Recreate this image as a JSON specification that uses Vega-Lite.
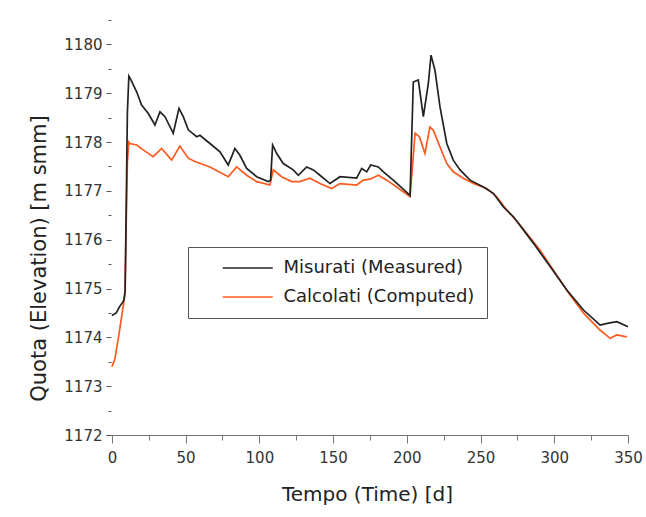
{
  "$schema": "https://vega.github.io/schema/vega-lite/v6.json",
  "width": 522,
  "height": 415,
  "autosize": {"type": "none"},
  "padding": {"left": 106, "top": 20, "right": 18, "bottom": 82},
  "background": "white",
  "config": {
    "view": {"stroke": null},
    "font": "DejaVu Sans",
    "axis": {"grid": false, "labelFont": "DejaVu Sans", "titleFont": "DejaVu Sans", "titleFontWeight": "normal"}
  },
  "data": {
    "values": [
      {"t": 0, "v": 1173.4, "series": "Calcolati (Computed)"},
      {"t": 2, "v": 1173.55, "series": "Calcolati (Computed)"},
      {"t": 5, "v": 1174.1, "series": "Calcolati (Computed)"},
      {"t": 8.8, "v": 1174.87, "series": "Calcolati (Computed)"},
      {"t": 10.5, "v": 1177.6, "series": "Calcolati (Computed)"},
      {"t": 11.5, "v": 1178.0, "series": "Calcolati (Computed)"},
      {"t": 12.2, "v": 1177.97, "series": "Calcolati (Computed)"},
      {"t": 16.8, "v": 1177.94, "series": "Calcolati (Computed)"},
      {"t": 21.2, "v": 1177.84, "series": "Calcolati (Computed)"},
      {"t": 28, "v": 1177.7, "series": "Calcolati (Computed)"},
      {"t": 33.7, "v": 1177.87, "series": "Calcolati (Computed)"},
      {"t": 40.5, "v": 1177.63, "series": "Calcolati (Computed)"},
      {"t": 46.1, "v": 1177.92, "series": "Calcolati (Computed)"},
      {"t": 51.8, "v": 1177.67, "series": "Calcolati (Computed)"},
      {"t": 56.3, "v": 1177.6, "series": "Calcolati (Computed)"},
      {"t": 66.5, "v": 1177.49, "series": "Calcolati (Computed)"},
      {"t": 78.9, "v": 1177.29, "series": "Calcolati (Computed)"},
      {"t": 84.6, "v": 1177.49, "series": "Calcolati (Computed)"},
      {"t": 91.4, "v": 1177.32, "series": "Calcolati (Computed)"},
      {"t": 98.2, "v": 1177.19, "series": "Calcolati (Computed)"},
      {"t": 107.2, "v": 1177.12, "series": "Calcolati (Computed)"},
      {"t": 109.4, "v": 1177.43, "series": "Calcolati (Computed)"},
      {"t": 115.1, "v": 1177.29, "series": "Calcolati (Computed)"},
      {"t": 121.9, "v": 1177.19, "series": "Calcolati (Computed)"},
      {"t": 127.5, "v": 1177.19, "series": "Calcolati (Computed)"},
      {"t": 134.3, "v": 1177.26, "series": "Calcolati (Computed)"},
      {"t": 141.1, "v": 1177.15, "series": "Calcolati (Computed)"},
      {"t": 149, "v": 1177.05, "series": "Calcolati (Computed)"},
      {"t": 154.7, "v": 1177.15, "series": "Calcolati (Computed)"},
      {"t": 166, "v": 1177.12, "series": "Calcolati (Computed)"},
      {"t": 170.5, "v": 1177.22, "series": "Calcolati (Computed)"},
      {"t": 175, "v": 1177.24, "series": "Calcolati (Computed)"},
      {"t": 180.7, "v": 1177.32, "series": "Calcolati (Computed)"},
      {"t": 186.4, "v": 1177.22, "series": "Calcolati (Computed)"},
      {"t": 193.1, "v": 1177.08, "series": "Calcolati (Computed)"},
      {"t": 202.2, "v": 1176.88, "series": "Calcolati (Computed)"},
      {"t": 205.6, "v": 1178.18, "series": "Calcolati (Computed)"},
      {"t": 208.5, "v": 1178.11, "series": "Calcolati (Computed)"},
      {"t": 212.3, "v": 1177.77, "series": "Calcolati (Computed)"},
      {"t": 215.7, "v": 1178.31, "series": "Calcolati (Computed)"},
      {"t": 218, "v": 1178.24, "series": "Calcolati (Computed)"},
      {"t": 222.5, "v": 1177.9, "series": "Calcolati (Computed)"},
      {"t": 227.1, "v": 1177.56, "series": "Calcolati (Computed)"},
      {"t": 231.5, "v": 1177.39, "series": "Calcolati (Computed)"},
      {"t": 238.3, "v": 1177.26, "series": "Calcolati (Computed)"},
      {"t": 245.1, "v": 1177.15, "series": "Calcolati (Computed)"},
      {"t": 254.2, "v": 1177.05, "series": "Calcolati (Computed)"},
      {"t": 261, "v": 1176.88, "series": "Calcolati (Computed)"},
      {"t": 267.8, "v": 1176.61, "series": "Calcolati (Computed)"},
      {"t": 276.8, "v": 1176.3, "series": "Calcolati (Computed)"},
      {"t": 290, "v": 1175.8, "series": "Calcolati (Computed)"},
      {"t": 300, "v": 1175.35, "series": "Calcolati (Computed)"},
      {"t": 310, "v": 1174.9, "series": "Calcolati (Computed)"},
      {"t": 320, "v": 1174.49, "series": "Calcolati (Computed)"},
      {"t": 331, "v": 1174.15, "series": "Calcolati (Computed)"},
      {"t": 337.9, "v": 1173.98, "series": "Calcolati (Computed)"},
      {"t": 342.4, "v": 1174.05, "series": "Calcolati (Computed)"},
      {"t": 349.2, "v": 1174.01, "series": "Calcolati (Computed)"},
      {"t": 0, "v": 1174.45, "series": "Misurati (Measured)"},
      {"t": 3, "v": 1174.5, "series": "Misurati (Measured)"},
      {"t": 5, "v": 1174.62, "series": "Misurati (Measured)"},
      {"t": 8, "v": 1174.75, "series": "Misurati (Measured)"},
      {"t": 9, "v": 1174.95, "series": "Misurati (Measured)"},
      {"t": 10.5, "v": 1178.6, "series": "Misurati (Measured)"},
      {"t": 11.5, "v": 1179.35, "series": "Misurati (Measured)"},
      {"t": 12.5, "v": 1179.3, "series": "Misurati (Measured)"},
      {"t": 14.5, "v": 1179.17, "series": "Misurati (Measured)"},
      {"t": 16.8, "v": 1179.03, "series": "Misurati (Measured)"},
      {"t": 20.1, "v": 1178.76, "series": "Misurati (Measured)"},
      {"t": 24.6, "v": 1178.59, "series": "Misurati (Measured)"},
      {"t": 29.2, "v": 1178.35, "series": "Misurati (Measured)"},
      {"t": 32.6, "v": 1178.62, "series": "Misurati (Measured)"},
      {"t": 36, "v": 1178.52, "series": "Misurati (Measured)"},
      {"t": 41.6, "v": 1178.18, "series": "Misurati (Measured)"},
      {"t": 45.5, "v": 1178.69, "series": "Misurati (Measured)"},
      {"t": 48.4, "v": 1178.52, "series": "Misurati (Measured)"},
      {"t": 51.8, "v": 1178.25, "series": "Misurati (Measured)"},
      {"t": 57.5, "v": 1178.11, "series": "Misurati (Measured)"},
      {"t": 59.7, "v": 1178.14, "series": "Misurati (Measured)"},
      {"t": 66.5, "v": 1177.97, "series": "Misurati (Measured)"},
      {"t": 73.3, "v": 1177.8, "series": "Misurati (Measured)"},
      {"t": 78.9, "v": 1177.53, "series": "Misurati (Measured)"},
      {"t": 83.4, "v": 1177.87, "series": "Misurati (Measured)"},
      {"t": 86.8, "v": 1177.73, "series": "Misurati (Measured)"},
      {"t": 91.4, "v": 1177.46, "series": "Misurati (Measured)"},
      {"t": 98.2, "v": 1177.29, "series": "Misurati (Measured)"},
      {"t": 106, "v": 1177.19, "series": "Misurati (Measured)"},
      {"t": 107.6, "v": 1177.22, "series": "Misurati (Measured)"},
      {"t": 109, "v": 1177.94, "series": "Misurati (Measured)"},
      {"t": 111.7, "v": 1177.77, "series": "Misurati (Measured)"},
      {"t": 116.2, "v": 1177.56, "series": "Misurati (Measured)"},
      {"t": 123, "v": 1177.43, "series": "Misurati (Measured)"},
      {"t": 126.4, "v": 1177.32, "series": "Misurati (Measured)"},
      {"t": 132.1, "v": 1177.49, "series": "Misurati (Measured)"},
      {"t": 136.6, "v": 1177.43, "series": "Misurati (Measured)"},
      {"t": 141.1, "v": 1177.32, "series": "Misurati (Measured)"},
      {"t": 147.9, "v": 1177.15, "series": "Misurati (Measured)"},
      {"t": 154.7, "v": 1177.29, "series": "Misurati (Measured)"},
      {"t": 166, "v": 1177.26, "series": "Misurati (Measured)"},
      {"t": 169.4, "v": 1177.46, "series": "Misurati (Measured)"},
      {"t": 172.8, "v": 1177.39, "series": "Misurati (Measured)"},
      {"t": 175.5, "v": 1177.53, "series": "Misurati (Measured)"},
      {"t": 180.7, "v": 1177.49, "series": "Misurati (Measured)"},
      {"t": 184.1, "v": 1177.39, "series": "Misurati (Measured)"},
      {"t": 190.8, "v": 1177.22, "series": "Misurati (Measured)"},
      {"t": 202.2, "v": 1176.91, "series": "Misurati (Measured)"},
      {"t": 204.4, "v": 1179.23, "series": "Misurati (Measured)"},
      {"t": 207.8, "v": 1179.27, "series": "Misurati (Measured)"},
      {"t": 211.2, "v": 1178.52, "series": "Misurati (Measured)"},
      {"t": 214.6, "v": 1179.2, "series": "Misurati (Measured)"},
      {"t": 216.4, "v": 1179.78, "series": "Misurati (Measured)"},
      {"t": 219.1, "v": 1179.47, "series": "Misurati (Measured)"},
      {"t": 222.5, "v": 1178.72, "series": "Misurati (Measured)"},
      {"t": 227.1, "v": 1177.97, "series": "Misurati (Measured)"},
      {"t": 231.5, "v": 1177.63, "series": "Misurati (Measured)"},
      {"t": 236.1, "v": 1177.43, "series": "Misurati (Measured)"},
      {"t": 242.9, "v": 1177.22, "series": "Misurati (Measured)"},
      {"t": 251.9, "v": 1177.08, "series": "Misurati (Measured)"},
      {"t": 258.7, "v": 1176.95, "series": "Misurati (Measured)"},
      {"t": 265.5, "v": 1176.67, "series": "Misurati (Measured)"},
      {"t": 272.3, "v": 1176.47, "series": "Misurati (Measured)"},
      {"t": 285.8, "v": 1175.93, "series": "Misurati (Measured)"},
      {"t": 297.2, "v": 1175.45, "series": "Misurati (Measured)"},
      {"t": 308.5, "v": 1174.97, "series": "Misurati (Measured)"},
      {"t": 319.8, "v": 1174.56, "series": "Misurati (Measured)"},
      {"t": 331.1, "v": 1174.25, "series": "Misurati (Measured)"},
      {"t": 336.7, "v": 1174.29, "series": "Misurati (Measured)"},
      {"t": 342.4, "v": 1174.32, "series": "Misurati (Measured)"},
      {"t": 350, "v": 1174.22, "series": "Misurati (Measured)"}
    ]
  },
  "mark": {"type": "line", "strokeWidth": 1.7, "clip": true},
  "encoding": {
    "x": {
      "field": "t", "type": "quantitative",
      "scale": {"domain": [-4, 350], "nice": false, "zero": false},
      "axis": {
        "title": "Tempo (Time) [d]",
        "values": [0, 25, 50, 75, 100, 125, 150, 175, 200, 225, 250, 275, 300, 325, 350],
        "labelExpr": "datum.value % 50 === 0 ? format(datum.value, 'd') : ''",
        "labelOverlap": false,
        "labelFlush": false,
        "tickSize": {"condition": {"test": "datum.value % 50 !== 0", "value": 5}, "value": 8},
        "tickColor": "#777777",
        "domainColor": "#777777",
        "labelFontSize": 15,
        "labelColor": "#333333",
        "labelPadding": 7,
        "titleFontSize": 20,
        "titleColor": "#222222",
        "titlePadding": 19
      }
    },
    "y": {
      "field": "v", "type": "quantitative",
      "scale": {"domain": [1172, 1180.5], "nice": false, "zero": false},
      "axis": {
        "title": "Quota (Elevation) [m smm]",
        "values": [1172, 1172.5, 1173, 1173.5, 1174, 1174.5, 1175, 1175.5, 1176, 1176.5, 1177, 1177.5, 1178, 1178.5, 1179, 1179.5, 1180, 1180.5],
        "labelExpr": "datum.value % 1 === 0 ? format(datum.value, 'd') : ''",
        "labelOverlap": false,
        "labelFlush": false,
        "domain": false,
        "offset": -5,
        "tickSize": {"condition": {"test": "datum.value % 1 !== 0", "value": 3}, "value": 5},
        "tickColor": "#555555",
        "labelFontSize": 15,
        "labelColor": "#333333",
        "labelPadding": 4,
        "titleFontSize": 21,
        "titleColor": "#222222",
        "titlePadding": 14,
        "titleY": 238
      }
    },
    "color": {
      "field": "series", "type": "nominal",
      "scale": {"domain": ["Misurati (Measured)", "Calcolati (Computed)"], "range": ["#222222", "#ff5a1e"]},
      "legend": {
        "title": null,
        "orient": "none",
        "legendX": 82,
        "legendY": 227,
        "strokeColor": "#555555",
        "padding": 12,
        "symbolType": "M-4,0H4",
        "symbolSize": 156.25,
        "symbolStrokeWidth": 1.7,
        "symbolOffset": 38.75,
        "labelOffset": 26.75,
        "labelFont": "DejaVu Sans",
        "labelFontSize": 18,
        "labelColor": "#222222",
        "labelLimit": 400,
        "rowPadding": 11,
        "labelExpr": "datum.label + '\u00a0\u00a0\u00a0'"
      }
    }
  }
}
